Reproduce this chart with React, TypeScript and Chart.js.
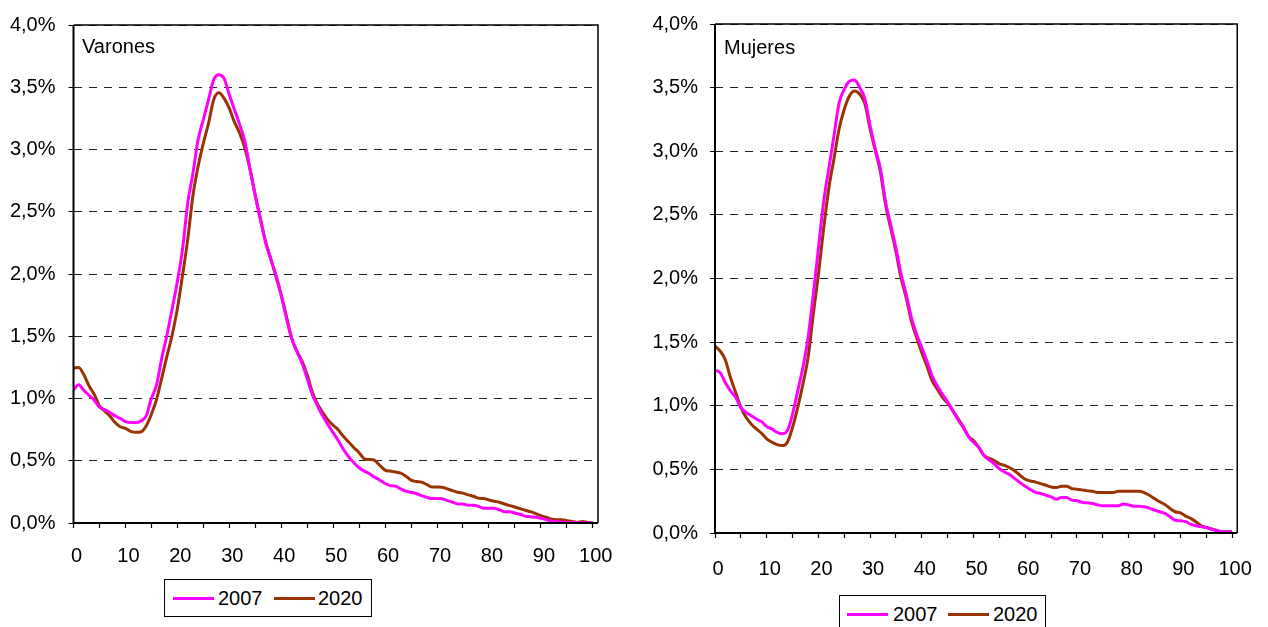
import React, { useEffect, useRef } from 'react';
import { Chart, registerables } from 'chart.js';

Chart.register(...registerables);

const AGES = [
  0, 1, 2, 3, 4, 5, 6, 7, 8, 9, 10, 11, 12, 13, 14, 15, 16, 17, 18, 19, 20,
  21, 22, 23, 24, 25, 26, 27, 28, 29, 30, 31, 32, 33, 34, 35, 36, 37, 38, 39, 40,
  41, 42, 43, 44, 45, 46, 47, 48, 49, 50, 51, 52, 53, 54, 55, 56, 57, 58, 59, 60,
  61, 62, 63, 64, 65, 66, 67, 68, 69, 70, 71, 72, 73, 74, 75, 76, 77, 78, 79, 80,
  81, 82, 83, 84, 85, 86, 87, 88, 89, 90, 91, 92, 93, 94, 95, 96, 97, 98, 99, 100,
];

const SERIES_NAMES = ['2007', '2020'];
const SERIES_COLORS = ['#FF00FF', '#993300'];
const PANEL_TITLES = ['Varones', 'Mujeres'];

const VARONES_2007 = [
  1.07, 1.11, 1.065, 1.025, 0.985, 0.93, 0.91, 0.887, 0.86, 0.84, 0.815,
  0.807, 0.807, 0.82, 0.86, 1.0, 1.11, 1.325, 1.51, 1.72, 1.94,
  2.2, 2.57, 2.81, 3.08, 3.24, 3.4, 3.56, 3.6, 3.57, 3.44,
  3.32, 3.2, 3.065, 2.84, 2.63, 2.44, 2.255, 2.12, 1.99, 1.83,
  1.645, 1.485, 1.38, 1.285, 1.16, 1.03, 0.94, 0.86, 0.79, 0.726,
  0.66, 0.59, 0.53, 0.484, 0.444, 0.417, 0.395, 0.368, 0.344, 0.317,
  0.3, 0.296, 0.274, 0.255, 0.247, 0.237, 0.22, 0.207, 0.196, 0.196,
  0.194, 0.18, 0.167, 0.153, 0.153, 0.142, 0.142, 0.134, 0.118, 0.118,
  0.118, 0.105, 0.091, 0.091, 0.08, 0.07, 0.054, 0.051, 0.046, 0.038,
  0.027, 0.016, 0.01, 0.008, 0.005, 0.004, 0.003, 0.002, 0.001, 0.0,
];

const VARONES_2020 = [
  1.245, 1.25, 1.19, 1.1, 1.033, 0.94, 0.9, 0.86, 0.807, 0.773, 0.76,
  0.736, 0.728, 0.733, 0.78, 0.874, 0.993, 1.166, 1.34, 1.51, 1.72,
  1.99, 2.28, 2.63, 2.865, 3.05, 3.21, 3.4, 3.455, 3.41, 3.33,
  3.22, 3.13, 3.01, 2.84, 2.63, 2.44, 2.255, 2.12, 1.976, 1.83,
  1.66, 1.485, 1.38, 1.3, 1.19, 1.05, 0.954, 0.887, 0.828, 0.785,
  0.747, 0.694, 0.65, 0.605, 0.565, 0.516, 0.51, 0.503, 0.462, 0.425,
  0.417, 0.41, 0.4, 0.376, 0.344, 0.333, 0.328, 0.31, 0.29, 0.29,
  0.288, 0.274, 0.26, 0.247, 0.24, 0.226, 0.215, 0.2, 0.196, 0.185,
  0.175, 0.167, 0.153, 0.14, 0.129, 0.116, 0.102, 0.091, 0.075, 0.059,
  0.046, 0.032, 0.027, 0.027, 0.019, 0.013, 0.005, 0.013, 0.005, 0.0,
];

const MUJERES_2007 = [
  1.279, 1.26, 1.18, 1.117, 1.065, 0.987, 0.948, 0.922, 0.896, 0.875, 0.836,
  0.818, 0.79, 0.779, 0.805, 0.935, 1.117, 1.3, 1.534, 1.872, 2.237,
  2.6, 2.86, 3.12, 3.38, 3.487, 3.55, 3.56, 3.5, 3.41, 3.2,
  3.018, 2.86, 2.6, 2.42, 2.237, 2.03, 1.872, 1.69, 1.56, 1.456,
  1.35, 1.234, 1.156, 1.09, 1.03, 0.96, 0.89, 0.83, 0.76, 0.713,
  0.674, 0.61, 0.575, 0.544, 0.505, 0.479, 0.46, 0.427, 0.396, 0.367,
  0.341, 0.32, 0.31, 0.297, 0.284, 0.266, 0.279, 0.279, 0.258, 0.253,
  0.242, 0.237, 0.232, 0.221, 0.214, 0.214, 0.214, 0.214, 0.227, 0.221,
  0.211, 0.211, 0.206, 0.195, 0.18, 0.167, 0.154, 0.128, 0.1, 0.096,
  0.089, 0.07, 0.057, 0.05, 0.044, 0.031, 0.018, 0.01, 0.008, 0.008,
];

const MUJERES_2020 = [
  1.469, 1.43, 1.36, 1.22, 1.104, 0.987, 0.909, 0.857, 0.818, 0.784, 0.74,
  0.714, 0.695, 0.687, 0.714, 0.83, 0.987, 1.17, 1.378, 1.716, 2.03,
  2.39, 2.706, 2.94, 3.175, 3.33, 3.435, 3.474, 3.448, 3.37, 3.175,
  3.005, 2.836, 2.575, 2.393, 2.21, 2.0, 1.846, 1.664, 1.534, 1.417,
  1.31, 1.195, 1.13, 1.065, 1.02, 0.96, 0.9, 0.835, 0.76, 0.727,
  0.674, 0.61, 0.588, 0.57, 0.544, 0.531, 0.513, 0.487, 0.453, 0.422,
  0.409, 0.4, 0.388, 0.375, 0.362, 0.357, 0.367, 0.367, 0.349, 0.344,
  0.339, 0.331, 0.328, 0.318, 0.318, 0.318, 0.318, 0.328, 0.328, 0.328,
  0.328, 0.328, 0.318, 0.297, 0.271, 0.245, 0.224, 0.193, 0.167, 0.159,
  0.133, 0.115, 0.089, 0.057, 0.044, 0.031, 0.021, 0.01, 0.01, 0.01,
];

const FONT = '"Liberation Sans", Arial, Helvetica, sans-serif';

type Geom = {
  left: number;
  width: number;
  height: number;
  axisWidth: number;
  xAxisHeight: number;
  padRight: number;
  padTop: number;
  yTickPad: number;
  xTickPad: number;
  titleDx: number;
  titleY: number;
  legend: { left: number; top: number; width: number; height: number; items: { lineX: number; textX: number }[] };
};

const GEOMS: Geom[] = [
  {
    left: 0, width: 634, height: 627,
    axisWidth: 73.5, xAxisHeight: 104, padRight: 36, padTop: 21, yTickPad: 13, xTickPad: 16,
    titleDx: 8.5, titleY: 53,
    legend: { left: 164, top: 579, width: 208, height: 38, items: [{ lineX: 8, textX: 53 }, { lineX: 109, textX: 153 }] },
  },
  {
    left: 634, width: 634, height: 627,
    axisWidth: 81, xAxisHeight: 94, padRight: 25, padTop: 21, yTickPad: 12, xTickPad: 19,
    titleDx: 9, titleY: 54,
    legend: { left: 839, top: 595, width: 207, height: 36, items: [{ lineX: 7, textX: 53 }, { lineX: 108, textX: 153 }] },
  },
];

const framePlugin = {
  id: 'frame',
  afterDatasetsDraw(chart: any, _args: any, opts: any) {
    const { ctx, chartArea: a } = chart;
    ctx.save();
    ctx.strokeStyle = '#000';
    ctx.lineWidth = 1.5;
    ctx.beginPath();
    ctx.moveTo(a.left, a.top);
    ctx.lineTo(a.right, a.top);
    ctx.lineTo(a.right, a.bottom);
    ctx.stroke();
    ctx.lineWidth = 2;
    ctx.beginPath();
    ctx.moveTo(a.left, a.top);
    ctx.lineTo(a.left, a.bottom);
    ctx.lineTo(a.right, a.bottom);
    ctx.stroke();
    ctx.fillStyle = '#000';
    ctx.font = `20px ${FONT}`;
    ctx.textBaseline = 'alphabetic';
    ctx.textAlign = 'left';
    ctx.fillText(opts.text, a.left + opts.dx, opts.y);
    ctx.restore();
  },
};

function Panel({ title, s2007, s2020, geom }: { title: string; s2007: number[]; s2020: number[]; geom: Geom }) {
  const ref = useRef<HTMLCanvasElement | null>(null);
  useEffect(() => {
    if (!ref.current) return;
    const seriesValues = [s2007, s2020];
    const chart = new Chart(ref.current, {
      type: 'line',
      data: {
        datasets: SERIES_NAMES.map((name, i) => ({
          label: name,
          data: AGES.map((a, k) => ({ x: a, y: seriesValues[i][k] })),
          borderColor: SERIES_COLORS[i],
          backgroundColor: SERIES_COLORS[i],
          borderWidth: 3,
          pointRadius: 0,
          tension: 0,
          cubicInterpolationMode: 'monotone' as const,
          fill: false,
        })),
      },
      options: {
        animation: false,
        responsive: false,
        maintainAspectRatio: false,
        layout: { padding: { top: geom.padTop, right: geom.padRight, left: 0, bottom: 0 } },
        plugins: {
          legend: { display: false },
          tooltip: { enabled: false },
          frame: { text: title, dx: geom.titleDx, y: geom.titleY },
        } as any,
        scales: {
          x: {
            type: 'linear',
            min: 0,
            max: 101,
            afterFit: (s: any) => { s.height = geom.xAxisHeight; },
            border: { display: false },
            grid: {
              drawOnChartArea: false,
              drawTicks: true,
              tickLength: 5,
              tickColor: '#000',
              tickWidth: 1.2,
            },
            ticks: {
              stepSize: 5,
              includeBounds: false,
              autoSkip: false,
              maxRotation: 0,
              padding: geom.xTickPad,
              labelOffset: 3,
              color: '#000',
              font: { family: FONT, size: 20 },
              callback: (v: any) => (Number(v) % 10 === 0 ? String(v) : ''),
            },
          },
          y: {
            min: 0,
            max: 4,
            afterFit: (s: any) => { s.width = geom.axisWidth; },
            border: { display: false, dash: [8, 7] },
            grid: {
              color: '#222',
              lineWidth: 1,
              drawTicks: true,
              tickLength: 5,
              tickColor: '#000',
              tickBorderDash: [],
            },
            ticks: {
              stepSize: 0.5,
              padding: geom.yTickPad,
              color: '#000',
              font: { family: FONT, size: 20 },
              callback: (v: any) => Number(v).toFixed(1).replace('.', ',') + '%',
            },
          },
        },
      },
      plugins: [framePlugin as any],
    });
    return () => chart.destroy();
  }, [title, s2007, s2020, geom]);

  return (
    <>
      <canvas
        ref={ref}
        width={geom.width}
        height={geom.height}
        style={{ position: 'absolute', left: geom.left, top: 0, width: geom.width, height: geom.height }}
      />
      <div
        style={{
          position: 'absolute',
          left: geom.legend.left,
          top: geom.legend.top,
          width: geom.legend.width,
          height: geom.legend.height,
          border: '1px solid #000',
          boxSizing: 'border-box',
          background: '#fff',
          fontFamily: FONT,
          fontSize: 20,
          color: '#000',
        }}
      >
        {SERIES_NAMES.map((name, i) => (
          <React.Fragment key={name}>
            <div
              style={{
                position: 'absolute',
                left: geom.legend.items[i].lineX,
                top: 17,
                width: 41,
                height: 3,
                background: SERIES_COLORS[i],
              }}
            />
            <div
              style={{
                position: 'absolute',
                left: geom.legend.items[i].textX,
                top: 6,
                lineHeight: '24px',
                whiteSpace: 'nowrap',
              }}
            >
              {name}
            </div>
          </React.Fragment>
        ))}
      </div>
    </>
  );
}

export default function App() {
  return (
    <div style={{ position: 'absolute', left: 0, top: 0, width: 1268, height: 627, overflow: 'hidden', background: '#fff' }}>
      <Panel title={PANEL_TITLES[0]} s2007={VARONES_2007} s2020={VARONES_2020} geom={GEOMS[0]} />
      <Panel title={PANEL_TITLES[1]} s2007={MUJERES_2007} s2020={MUJERES_2020} geom={GEOMS[1]} />
    </div>
  );
}
